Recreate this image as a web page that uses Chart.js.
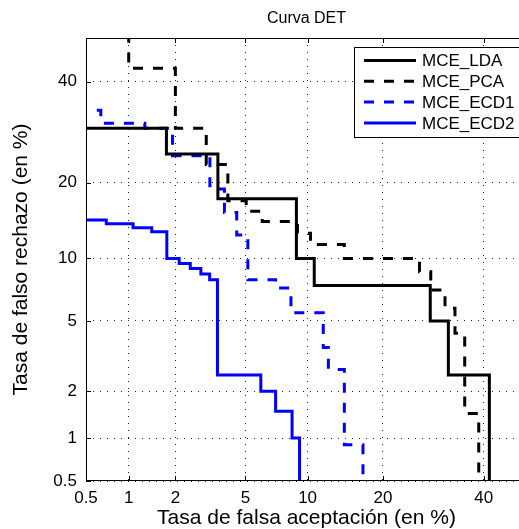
<!DOCTYPE html>
<html>
<head>
<meta charset="utf-8">
<script src="https://cdn.jsdelivr.net/npm/chart.js@4"></script>
<style>
  html, body { margin: 0; padding: 0; background: #fff; overflow: hidden; }
  #wrap { width: 560px; height: 529px; }
</style>
</head>
<body>
<div id="wrap"><canvas id="det" width="560" height="529"></canvas></div>
<script>
// axis ticks and range, in %
const tickPercents = [0.5, 1, 2, 5, 10, 20, 40];
const axisMin = 0.5;
const axisMax = 50;

// DET operating points: falsa aceptación (%) and falso rechazo (%)
const ldaFA = [0, 1.76, 3.55, 8.9, 10.7, 28.6, 32.3, 41.3];
const ldaFR = [30, 25, 17.5, 10, 7.5, 5, 2.5, 0];

const pcaFA = [0, 1.0, 2.0, 3.05, 4.03, 5.05, 6.1, 9.0, 10.3, 14.3, 26.5, 28.7, 31.6, 33.7, 35.8, 38.9];
const pcaFR = [100, 43, 30, 23.1, 17.2, 15.7, 14.3, 12.8, 11.5, 10, 8.7, 7.15, 5.8, 4.3, 1.45, 0];

const ecd1FA = [0, 0.64, 1.28, 1.92, 3.2, 3.86, 4.5, 5.15, 7.1, 8.4, 11.7, 12.3, 14.3, 16.9];
const ecd1FR = [33.7, 31, 30, 24.7, 19, 15.5, 12.6, 8.0, 7.3, 5.5, 3.6, 2.7, 0.9, 0];

const ecd2FA = [0, 0.70, 1.07, 1.42, 1.77, 2.11, 2.46, 2.84, 3.19, 3.53, 6.0, 7.1, 8.5, 9.2];
const ecd2FR = [14.5, 14.0, 13.5, 13.0, 10.0, 9.5, 9.0, 8.5, 8.0, 2.5, 2.0, 1.5, 1.0, 0];

// inverse normal CDF (Acklam)
function probit(p) {
  const a = [-3.969683028665376e+01, 2.209460984245205e+02, -2.759285104469687e+02, 1.383577518672690e+02, -3.066479806614716e+01, 2.506628277459239e+00];
  const b = [-5.447609879822406e+01, 1.615858368580409e+02, -1.556989798598866e+02, 6.680131188771972e+01, -1.328068155922803e+01];
  const c = [-7.784894002430293e-03, -3.223964580411365e-01, -2.400758277161838e+00, -2.549732539343734e+00, 4.374664141464968e+00, 2.938163982698783e+00];
  const d = [7.784695709041462e-03, 3.224671290700398e-01, 2.445134137142996e+00, 3.754408661907416e+00];
  const pl = 0.02425;
  if (p < pl) {
    const q = Math.sqrt(-2 * Math.log(p));
    return (((((c[0] * q + c[1]) * q + c[2]) * q + c[3]) * q + c[4]) * q + c[5]) / ((((d[0] * q + d[1]) * q + d[2]) * q + d[3]) * q + 1);
  }
  if (p > 1 - pl) {
    const q = Math.sqrt(-2 * Math.log(1 - p));
    return -(((((c[0] * q + c[1]) * q + c[2]) * q + c[3]) * q + c[4]) * q + c[5]) / ((((d[0] * q + d[1]) * q + d[2]) * q + d[3]) * q + 1);
  }
  const q = p - 0.5;
  const r = q * q;
  return (((((a[0] * r + a[1]) * r + a[2]) * r + a[3]) * r + a[4]) * r + a[5]) * q / (((((b[0] * r + b[1]) * r + b[2]) * r + b[3]) * r + b[4]) * r + 1);
}

function normCdf(z) {
  const t = 1 / (1 + 0.3275911 * Math.abs(z) / Math.SQRT2);
  const y = 1 - (((((1.061405429 * t - 1.453152027) * t) + 1.421413741) * t - 0.284496736) * t + 0.254829592) * t * Math.exp(-z * z / 2);
  return z >= 0 ? (1 + y) / 2 : (1 - y) / 2;
}

// normal-deviate scale used by DET plots
class ProbitScale extends Chart.LinearScale {
  determineDataLimits() {
    this.min = this.options.min;
    this.max = this.options.max;
  }
  buildTicks() {
    return this.options.ticks.values.map(v => ({ value: v }));
  }
  configure() {
    super.configure();
    this._zStart = probit(this.min / 100);
    this._zRange = probit(this.max / 100) - this._zStart;
  }
  getPixelForValue(value) {
    if (value === null || value === undefined || isNaN(value)) return NaN;
    const p = Math.min(Math.max(value / 100, 1e-5), 1 - 1e-5);
    return this.getPixelForDecimal((probit(p) - this._zStart) / this._zRange);
  }
  getValueForPixel(pixel) {
    return 100 * normCdf(this._zStart + this.getDecimalForPixel(pixel) * this._zRange);
  }
}
ProbitScale.id = 'probit';
ProbitScale.defaults = {};
Chart.register(ProbitScale);

Chart.defaults.font.family = '"Liberation Sans", Arial, Helvetica, sans-serif';
Chart.defaults.color = '#000';

const toPoints = (fa, fr) => fa.map((x, i) => ({ x, y: fr[i] }));

const frameAndLegend = {
  id: 'frameAndLegend',
  afterDraw(chart) {
    const { ctx, chartArea: a, scales } = chart;
    ctx.save();
    ctx.strokeStyle = '#000';
    ctx.lineWidth = 1;
    ctx.setLineDash([]);
    ctx.strokeRect(a.left + 0.5, a.top + 0.5, a.right - a.left - 1, a.bottom - a.top - 1);

    // inward tick marks
    ctx.beginPath();
    scales.x.ticks.forEach((t, i) => {
      const px = Math.round(scales.x.getPixelForTick(i)) + 0.5;
      ctx.moveTo(px, a.bottom); ctx.lineTo(px, a.bottom - 5);
      ctx.moveTo(px, a.top); ctx.lineTo(px, a.top + 5);
    });
    scales.y.ticks.forEach((t, i) => {
      const py = Math.round(scales.y.getPixelForTick(i)) + 0.5;
      ctx.moveTo(a.left, py); ctx.lineTo(a.left + 5, py);
      ctx.moveTo(a.right, py); ctx.lineTo(a.right - 5, py);
    });
    ctx.stroke();

    // legend box
    const box = { left: 354, top: 47, right: 522, bottom: 137 };
    ctx.fillStyle = '#fff';
    ctx.fillRect(box.left, box.top, box.right - box.left, box.bottom - box.top);
    ctx.strokeRect(box.left + 0.5, box.top + 0.5, box.right - box.left, box.bottom - box.top);
    ctx.font = '17px "Liberation Sans", Arial, sans-serif';
    ctx.textBaseline = 'middle';
    ctx.textAlign = 'left';
    chart.data.datasets.forEach((ds, i) => {
      const y = box.top + 13.5 + i * 20.8;
      ctx.save();
      ctx.strokeStyle = ds.borderColor;
      ctx.lineWidth = ds.borderWidth;
      ctx.lineCap = 'butt';
      ctx.setLineDash(ds.borderDash || []);
      ctx.beginPath();
      ctx.moveTo(364, y);
      ctx.lineTo(416, y);
      ctx.stroke();
      ctx.restore();
      ctx.fillStyle = '#000';
      ctx.fillText(ds.label, 422, y + 1);
    });
    ctx.restore();
  }
};

const lineStyle = { borderWidth: 3, pointRadius: 0, stepped: true, fill: false, tension: 0, borderCapStyle: 'butt', borderJoinStyle: 'miter' };

new Chart(document.getElementById('det'), {
  type: 'line',
  data: {
    datasets: [
      { ...lineStyle, label: 'MCE_LDA', data: toPoints(ldaFA, ldaFR), borderColor: '#000000', borderDash: [] },
      { ...lineStyle, label: 'MCE_PCA', data: toPoints(pcaFA, pcaFR), borderColor: '#000000', borderDash: [10, 10] },
      { ...lineStyle, label: 'MCE_ECD1', data: toPoints(ecd1FA, ecd1FR), borderColor: '#0000ff', borderDash: [10, 10] },
      { ...lineStyle, label: 'MCE_ECD2', data: toPoints(ecd2FA, ecd2FR), borderColor: '#0000ff', borderDash: [] },
    ],
  },
  options: {
    responsive: false,
    animation: false,
    layout: { padding: { left: 0, right: 33, top: 0, bottom: 0 } },
    plugins: {
      legend: { display: false },
      tooltip: { enabled: false },
      title: {
        display: true,
        text: 'Curva DET',
        fullSize: false,
        color: '#000',
        font: { size: 16, weight: 'normal', lineHeight: 1.2 },
        padding: { top: 9, bottom: 9.8 },
      },
    },
    scales: {
      x: {
        type: 'probit',
        min: axisMin,
        max: axisMax,
        ticks: { values: tickPercents, autoSkip: false, maxRotation: 0, padding: 7, font: { size: 17 }, callback: v => String(v) },
        grid: { color: '#222', lineWidth: 1, drawTicks: false },
        border: { display: false, dash: [1, 6] },
        title: { display: true, text: 'Tasa de falsa aceptación (en %)', font: { size: 21, lineHeight: 1 }, padding: { top: 0, bottom: 0 } },
        afterFit: s => { s.height = 48; },
      },
      y: {
        type: 'probit',
        min: axisMin,
        max: axisMax,
        ticks: { values: tickPercents, autoSkip: false, padding: 9, font: { size: 17 }, callback: v => String(v) },
        grid: { color: '#222', lineWidth: 1, drawTicks: false },
        border: { display: false, dash: [1, 6] },
        title: { display: true, text: 'Tasa de falso rechazo (en %)', font: { size: 21, lineHeight: 1 }, padding: { top: 11, bottom: 0 } },
        afterFit: s => { s.width = 86; },
      },
    },
  },
  plugins: [frameAndLegend],
});
</script>
</body>
</html>
